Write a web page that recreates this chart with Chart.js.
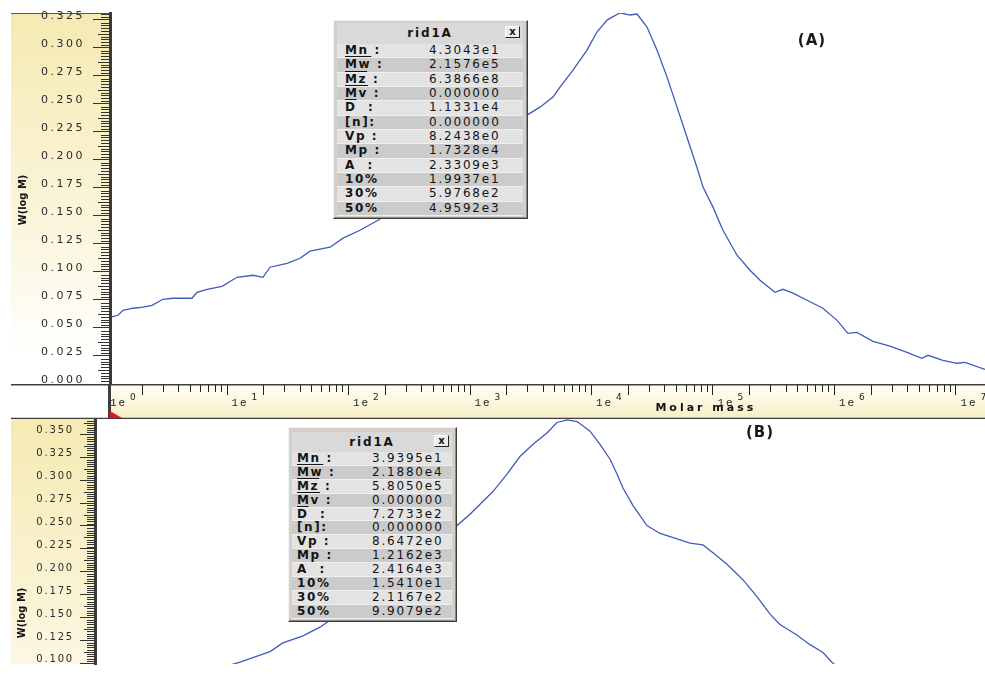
<!DOCTYPE html>
<html>
  <head>
   <meta charset='utf-8'>
   <title>rid1A molar mass distribution</title>
   <script src="https://cdn.jsdelivr.net/npm/chart.js@4.4.1/dist/chart.umd.min.js"></script>
   <style>
     body { margin: 0; width: 985px; height: 699px; overflow: hidden; position: relative; background: #fff; }
     .pane { position: absolute; left: 0; width: 985px; }
     #paneA { top: 0; height: 419px; }
     #paneB { top: 419px; height: 280px; }
     .box { position: absolute; box-sizing: border-box; background: #d4d0c8;
            border: 1px solid; border-color: #f4f4f4 #3c3c3c #3c3c3c #f4f4f4;
            box-shadow: inset -1px -1px 0 #8a8a8a; font-family: 'DejaVu Sans', sans-serif; color: #141414; }
     .box .ttl { position: relative; text-align: center; font: bold 12px 'DejaVu Sans'; letter-spacing: 1.8px; background: #d9d9d9; }
     .box .cls { position: absolute; right: 3px; top: 3px; width: 15px; height: 12px; box-sizing: border-box;
                 border: 1px solid; border-color: #fff #222 #222 #fff; background: #ececec;
                 font: bold 10px/9px 'DejaVu Sans'; letter-spacing: 0; text-align: center; }
     .box .row { display: flex; align-items: center; box-sizing: border-box; border-bottom: 1px solid #efefef;
                 font-size: 12px; line-height: 11px; }
     .box .row:nth-child(even) { background: #e3e3e3; }
     .box .row:nth-child(odd) { background: #cbcbcb; }
     .lab { font-weight: bold; letter-spacing: 1.6px; white-space: pre; box-sizing: border-box; flex: none; }
     .lab b { text-decoration: overline; }
     .val { letter-spacing: 1.8px; }
   </style>
  </head>
  <body>
    <div class="pane" id="paneA"><canvas id="chartA"></canvas></div>
    <div class="pane" id="paneB"><canvas id="chartB"></canvas></div>
    <div class="box" id="boxA"></div>
    <div class="box" id="boxB"></div>
    <script>
      // x is log10(molar mass), y is W(log M)
      var logM_A = [0.055, 0.107, 0.148, 0.230, 0.313, 0.387, 0.477, 0.560, 0.716, 0.757,
                    0.840, 0.963, 1.086, 1.218, 1.300, 1.358, 1.498, 1.605, 1.687, 1.852,
                    1.959, 2.099, 2.247,
                    3.473, 3.580, 3.687, 3.745, 3.852, 3.967, 4.049, 4.132, 4.239, 4.321,
                    4.379, 4.461, 4.543, 4.626, 4.708, 4.790, 4.872, 4.922, 5.004, 5.086,
                    5.202, 5.309, 5.391, 5.514, 5.580, 5.663, 5.778, 5.909, 6.025, 6.115,
                    6.189, 6.321, 6.461, 6.601, 6.724, 6.774, 6.897, 7.012, 7.078, 7.243];
      var w_A = [0.0598, 0.0613, 0.0658, 0.0676, 0.0685, 0.0702, 0.0756, 0.0765, 0.0765, 0.0818,
                 0.0845, 0.0872, 0.0952, 0.0970, 0.0952, 0.1042, 0.1077, 0.1122, 0.1185, 0.1220,
                 0.1301, 0.1372, 0.1461,
                 0.2399, 0.2470, 0.2560, 0.2649, 0.2801, 0.2979, 0.3140, 0.3247, 0.3312, 0.3292,
                 0.3301, 0.3185, 0.2979, 0.2738, 0.2470, 0.2202, 0.1934, 0.1757, 0.1578, 0.1372,
                 0.1149, 0.1015, 0.0926, 0.0818, 0.0845, 0.0810, 0.0747, 0.0676, 0.0568, 0.0452,
                 0.0461, 0.0381, 0.0337, 0.0283, 0.0229, 0.0256, 0.0211, 0.0185, 0.0193, 0.0131];

      var logM_B = [0.888, 0.966, 1.160, 1.244, 1.374, 1.484, 1.568, 1.646,
                    2.372, 2.456, 2.605, 2.696, 2.780, 2.865, 2.955, 3.020, 3.085, 3.150,
                    3.234, 3.299, 3.364, 3.409, 3.448, 3.513, 3.603, 3.688, 3.798, 3.882,
                    3.966, 4.031, 4.122, 4.226, 4.316, 4.401, 4.465, 4.575, 4.660, 4.744,
                    4.802, 4.841];
      var w_B = [0.0975, 0.1013, 0.1128, 0.1223, 0.1300, 0.1395, 0.1491, 0.1682,
                 0.2504, 0.2628, 0.2876, 0.3067, 0.3258, 0.3392, 0.3516, 0.3630, 0.3659, 0.3640,
                 0.3535, 0.3392, 0.3229, 0.3067, 0.2914, 0.2723, 0.2504, 0.2418, 0.2360, 0.2312,
                 0.2293, 0.2207, 0.2083, 0.1911, 0.1729, 0.1538, 0.1424, 0.1309, 0.1204, 0.1118,
                 0.1013, 0.0956];

      var yTicks_A = [0.000, 0.025, 0.050, 0.075, 0.100, 0.125, 0.150, 0.175, 0.200, 0.225, 0.250, 0.275, 0.300, 0.325];
      var yTicks_B = [0.100, 0.125, 0.150, 0.175, 0.200, 0.225, 0.250, 0.275, 0.300, 0.325, 0.350];
      var decades = [0, 1, 2, 3, 4, 5, 6, 7];

      var sampleName = 'rid1A';
      var statNames = ['Mn', 'Mw', 'Mz', 'Mv', 'D', '[n]', 'Vp', 'Mp', 'A', '10%', '30%', '50%'];
      var statTails = [' :', ' :', ' :', ' :', '  :', ':', ' :', ' :', '  :', '', '', ''];
      var barred = ['Mn', 'Mw', 'Mz', 'Mv', 'D'];
      var stats_A = ['4.3043e1', '2.1576e5', '6.3866e8', '0.000000', '1.1331e4', '0.000000',
                     '8.2438e0', '1.7328e4', '2.3309e3', '1.9937e1', '5.9768e2', '4.9592e3'];
      var stats_B = ['3.9395e1', '2.1880e4', '5.8050e5', '0.000000', '7.2733e2', '0.000000',
                     '8.6472e0', '1.2162e3', '2.4164e3', '1.5410e1', '2.1167e2', '9.9079e2'];

      function line(ctx, x1, y1, x2, y2) { ctx.moveTo(x1, y1); ctx.lineTo(x2, y2); }

      // yellow ruler panels, fine ticks, the molar mass band and the panel captions
      function framePlugin(o) {
        return {
          id: 'frame',
          beforeDraw: function(chart) {
            var ctx = chart.ctx, area = chart.chartArea, ys = chart.scales.y;
            ctx.save();
            var g = ctx.createLinearGradient(0, area.top, 0, area.top + 345);
            g.addColorStop(0, '#f5eab2');
            g.addColorStop(0.6, '#fbf5da');
            g.addColorStop(1, '#ffffff');
            ctx.fillStyle = g;
            ctx.fillRect(ys.left, area.top, ys.right - ys.left, area.bottom - area.top);
            if (o.topLine) {
              ctx.strokeStyle = '#555'; ctx.lineWidth = 1;
              ctx.beginPath(); line(ctx, ys.left, area.top + 0.5, ys.right, area.top + 0.5); ctx.stroke();
            }
            ctx.restore();
            ctx.letterSpacing = o.digitGap;
          },
          afterDraw: function(chart) {
            var ctx = chart.ctx, area = chart.chartArea, ys = chart.scales.y, xs = chart.scales.x;
            ctx.save();
            ctx.letterSpacing = '0px';
            ctx.strokeStyle = '#333'; ctx.lineWidth = 1;
            ctx.beginPath();
            for (var i = Math.ceil(ys.min / 0.0025); i * 0.0025 <= ys.max + 1e-9; i++) {
              if (i % 10 === 0) continue;
              var py = Math.round(ys.getPixelForValue(i * 0.0025)) + 0.5;
              var len = (i % 5 === 0) ? o.midLen : o.minorLen;
              line(ctx, ys.right - len, py, ys.right - 1, py);
            }
            ctx.stroke();

            // axis title
            ctx.save();
            ctx.translate(o.titleX, o.titleY);
            ctx.rotate(-Math.PI / 2);
            ctx.font = "bold 11px 'DejaVu Sans Condensed', 'Liberation Sans Narrow', 'DejaVu Sans'";
            ctx.fillStyle = '#111'; ctx.textAlign = 'center'; ctx.textBaseline = 'middle';
            ctx.fillText('W(log M)', 0, 0);
            ctx.restore();

            // (A) / (B)
            ctx.font = "bold 15px 'DejaVu Sans'";
            ctx.letterSpacing = '1px';
            ctx.fillStyle = '#1a1a1a'; ctx.textAlign = 'center'; ctx.textBaseline = 'middle';
            ctx.fillText(o.panel, o.panelX, o.panelY);
            ctx.letterSpacing = '0px';

            if (o.band) {
              var top = area.bottom, bot = chart.height - 1;
              var g = ctx.createLinearGradient(0, top, 0, bot);
              g.addColorStop(0, '#fffef6');
              g.addColorStop(1, '#f7efc6');
              ctx.fillStyle = g;
              ctx.fillRect(area.left, top, area.right - area.left, bot - top);

              ctx.strokeStyle = '#3e3e3e'; ctx.lineWidth = 1.5;
              ctx.beginPath();
              line(ctx, ys.left, top + 0.75, area.right, top + 0.75);
              line(ctx, ys.left, bot + 0.5, area.right, bot + 0.5);
              ctx.stroke();
              ctx.lineWidth = 3;
              ctx.beginPath(); line(ctx, area.left - 0.5, top, area.left - 0.5, bot); ctx.stroke();

              ctx.lineWidth = 1; ctx.strokeStyle = '#222';
              ctx.beginPath();
              decades.forEach(function(d) {
                for (var k = 1; k <= 9; k++) {
                  var v = d + Math.log10(k);
                  if (v < xs.min || v > xs.max) continue;
                  var px = Math.round(xs.getPixelForValue(v)) + 0.5;
                  line(ctx, px, top + 1, px, top + 1 + ((k <= 2) ? 10 : 7));
                }
              });
              ctx.stroke();

              ctx.fillStyle = '#1e1e1e'; ctx.textAlign = 'left'; ctx.textBaseline = 'middle';
              decades.forEach(function(d) {
                var px = xs.getPixelForValue(d);
                ctx.font = "11px 'Liberation Mono', 'DejaVu Sans Mono'";
                ctx.letterSpacing = '2px';
                ctx.fillText('1e', px + 5, top + 19);
                ctx.font = "9px 'DejaVu Sans'";
                ctx.letterSpacing = '0px';
                ctx.fillText(String(d), px + 25, top + 13.5);
              });

              ctx.font = "bold 11px 'DejaVu Sans'";
              ctx.letterSpacing = '3px';
              ctx.fillStyle = '#111';
              ctx.fillText('Molar mass', xs.getPixelForValue(4.53), top + 24.5);
              ctx.letterSpacing = '0px';

              ctx.fillStyle = '#e01818';
              ctx.beginPath();
              ctx.moveTo(area.left, bot - 7); ctx.lineTo(area.left, bot); ctx.lineTo(area.left + 12, bot);
              ctx.closePath(); ctx.fill();
            }
            ctx.restore();
          }
        };
      }

      function makeChart(id, o) {
        return new Chart(document.getElementById(id), {
          type: 'line',
          data: { datasets: [{
            data: o.xs.map(function(x, i) { return {x: x, y: o.ys[i]}; }),
            borderColor: '#3f5cb8', borderWidth: 1.3, pointRadius: 0, tension: 0, fill: false
          }]},
          options: {
            responsive: true, maintainAspectRatio: false, animation: false, devicePixelRatio: 1,
            layout: { padding: { left: 11, top: o.padTop, right: 0, bottom: 0 } },
            plugins: { legend: { display: false }, tooltip: { enabled: false } },
            scales: {
              x: { type: 'linear', min: o.xMin, max: o.xMax, display: o.band,
                   ticks: { display: false }, grid: { display: false }, border: { display: false },
                   afterFit: function(s) { s.height = 35; s.paddingLeft = 0; s.paddingRight = 0; } },
              y: { type: 'linear', min: o.yMin, max: o.yMax,
                   afterBuildTicks: function(s) { s.ticks = o.yTicks.map(function(v) { return {value: v}; }); },
                   afterFit: function(s) { s.width = o.axisW; s.paddingTop = 0; s.paddingBottom = 0; },
                   ticks: { padding: o.tickPad, labelOffset: o.labelOff, color: '#2b2b2b',
                            font: { family: 'DejaVu Sans', size: o.tickFont },
                            callback: function(v) { return v.toFixed(3); } },
                   grid: { drawOnChartArea: false, tickLength: o.tickLen, color: '#333', lineWidth: 1 },
                   border: { display: true, color: '#3a3a3a', width: 3 } }
            }
          },
          plugins: [framePlugin(o)]
        });
      }

      var chartA = makeChart('chartA', {
        xs: logM_A, ys: w_A, xMin: 0.041, xMax: 7.243, yMin: 0, yMax: 0.331, yTicks: yTicks_A,
        padTop: 13, axisW: 99, tickPad: 8, labelOff: -4, tickFont: 11, tickLen: 17,
        midLen: 12, minorLen: 9, digitGap: '2.5px', band: true, topLine: true,
        titleX: 23, titleY: 200, panel: '(A)', panelX: 812, panelY: 41
      });
      var chartB = makeChart('chartB', {
        xs: logM_B, ys: w_B, xMin: 0.026, xMax: 5.794, yMin: 0.0993, yMax: 0.3668, yTicks: yTicks_B,
        padTop: 0, axisW: 84, tickPad: 6, labelOff: -3.5, tickFont: 10, tickLen: 15,
        midLen: 11, minorLen: 8, digitGap: '1.8px', band: false, topLine: false,
        titleX: 22, titleY: 194, panel: '(B)', panelX: 760, panelY: 14
      });

      function buildBox(id, values, o) {
        var box = document.getElementById(id);
        box.style.left = o.left + 'px'; box.style.top = o.top + 'px';
        box.style.width = o.width + 'px'; box.style.height = o.height + 'px';
        box.style.padding = o.padTop + 'px 4px 2px 3px';
        var html = '<div class="ttl" style="height:' + o.titleH + 'px;line-height:' + o.titleH + 'px">' +
                   sampleName + '<span class="cls">x</span></div>';
        statNames.forEach(function(n, i) {
          var name = barred.indexOf(n) >= 0 ? '<b>' + n + '</b>' : n;
          html += '<div class="row" style="height:' + o.rowH + 'px">' +
                  '<span class="lab" style="width:' + o.labW + 'px;padding-left:' + o.labPad + 'px">' + name + statTails[i] + '</span>' +
                  '<span class="val">' + values[i] + '</span></div>';
        });
        box.innerHTML = html;
      }
      buildBox('boxA', stats_A, { left: 333, top: 20, width: 195, height: 199, padTop: 2, titleH: 21, rowH: 14.33, labW: 92, labPad: 8 });
      buildBox('boxB', stats_B, { left: 288, top: 427, width: 169, height: 195, padTop: 4, titleH: 20, rowH: 13.9, labW: 80, labPad: 5 });
    </script>
  </body>
</html>
